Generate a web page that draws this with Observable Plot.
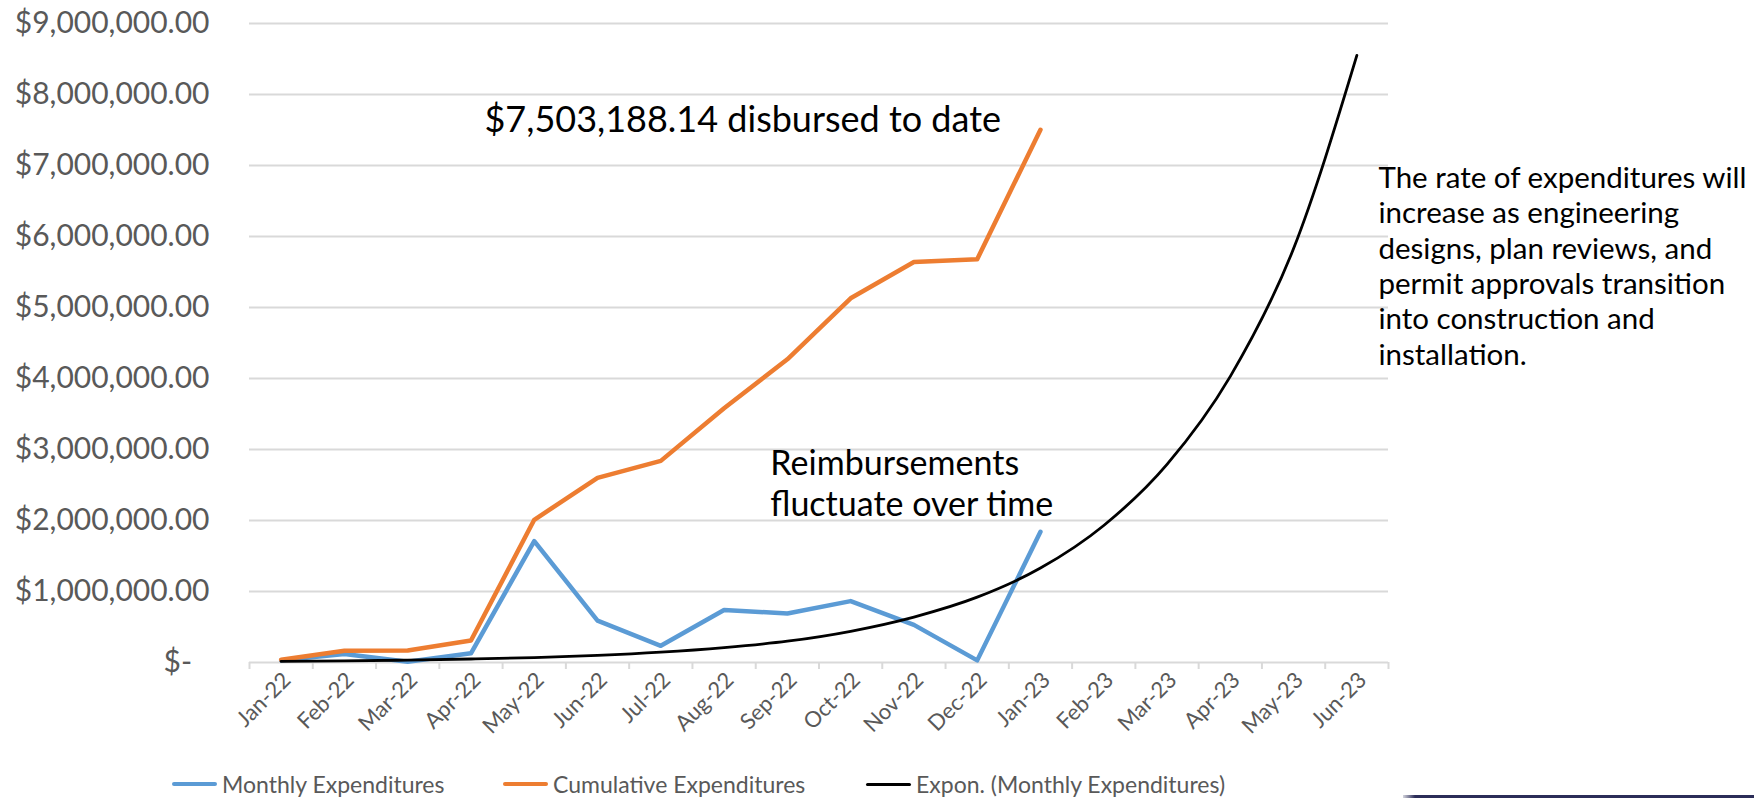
<!DOCTYPE html>
<html>
<head>
<meta charset="utf-8">
<script src="https://cdn.jsdelivr.net/npm/d3@7"></script>
<script src="https://cdn.jsdelivr.net/npm/@observablehq/plot@0.6"></script>
<style>
  html, body { margin: 0; padding: 0; background: #fff; }
  #wrap { position: relative; width: 1754px; height: 798px; overflow: hidden; font-family: Lato, sans-serif; }
  .leg { position: absolute; top: 770px; height: 28px; display: flex; align-items: center; font-size: 23px; color: #595959; white-space: nowrap; }
  .sw { width: 45px; height: 4px; margin-right: 5px; border-radius: 2px; }
  #bar { position: absolute; left: 1403px; top: 795px; width: 351px; height: 3px; background: linear-gradient(to right, rgba(43,45,88,0.2), #2b2d58 12px); }
</style>
</head>
<body>
<div id="wrap">
  <div id="chart"></div>
  <div class="leg" style="left:172px"><div class="sw" style="background:#5b9bd5"></div>Monthly Expenditures</div>
  <div class="leg" style="left:503px"><div class="sw" style="background:#ed7d31"></div>Cumulative Expenditures</div>
  <div class="leg" style="left:866px"><div class="sw" style="background:#000;height:3px"></div>Expon. (Monthly Expenditures)</div>
  <div id="bar"></div>
</div>
<script>
// ---- data ----
const months = ["Jan-22","Feb-22","Mar-22","Apr-22","May-22","Jun-22","Jul-22","Aug-22","Sep-22","Oct-22","Nov-22","Dec-22","Jan-23","Feb-23","Mar-23","Apr-23","May-23","Jun-23"];
const monthly = [30000, 120000, 10000, 130000, 1710000, 590000, 235000, 740000, 690000, 865000, 530000, 30000, 1840000];
const cumulative = [40000, 165000, 170000, 310000, 2010000, 2600000, 2840000, 3580000, 4270000, 5130000, 5640000, 5680000, 7503188.14];
const trend = [16000, 23000, 34000, 49000, 70000, 100000, 145000, 210000, 300000, 440000, 640000, 920000, 1330000, 1930000, 2790000, 4030000, 5830000, 8550000];
const yTicks = [0, 1e6, 2e6, 3e6, 4e6, 5e6, 6e6, 7e6, 8e6, 9e6];
const seriesNames = ["Monthly Expenditures", "Cumulative Expenditures", "Expon. (Monthly Expenditures)"];
const noteTotal = "$7,503,188.14 disbursed to date";
const noteFluct = "Reimbursements\nfluctuate over time";
const noteRate = "The rate of expenditures will\nincrease as engineering\ndesigns, plan reviews, and\npermit approvals transition\ninto construction and\ninstallation.";

// ---- tables ----
const idx = months.map((_, i) => i);
const bounds = d3.range(months.length + 1).map(i => i - 0.5);
const blueData = monthly.map((v, i) => ({i, v}));
const orangeData = cumulative.map((v, i) => ({i, v}));
const trendData = trend.map((v, i) => ({i, v}));
const money = d3.format("$,.2f");

const plot = Plot.plot({
  width: 1754,
  height: 765,
  marginTop: 23,
  marginBottom: 103,
  marginLeft: 249,
  marginRight: 366,
  style: {fontFamily: "Lato, sans-serif", color: "#595959", background: "transparent", overflow: "visible"},
  x: {type: "linear", domain: [-0.5, months.length - 0.5]},
  y: {domain: [0, 9e6]},
  marks: [
    Plot.gridY(yTicks.slice(1), {stroke: "#d9d9d9", strokeOpacity: 1, strokeWidth: 2}),
    Plot.ruleY([0], {stroke: "#d9d9d9", strokeWidth: 2}),
    Plot.axisY(yTicks, {tickSize: 0, tickPadding: 40, fontSize: 30, tickFormat: d => d === 0 ? "$-\u2007" : money(d), label: null}),
    Plot.axisX(bounds, {tickSize: 7, tickFormat: () => "", stroke: "#d9d9d9", strokeWidth: 2, label: null}),
    Plot.axisX(idx, {tickSize: 0, tickPadding: 14, dx: 6, tickRotate: -45, fontSize: 22, tickFormat: i => months[i], label: null}),
    Plot.line(blueData, {x: "i", y: "v", stroke: "#5b9bd5", strokeWidth: 4.5, strokeLinejoin: "round"}),
    Plot.line(orangeData, {x: "i", y: "v", stroke: "#ed7d31", strokeWidth: 4.5, strokeLinejoin: "round"}),
    Plot.line(trendData, {x: "i", y: "v", stroke: "#000", strokeWidth: 2.8, curve: "monotone-x"}),
    Plot.text([noteTotal], {x: 3, y: 7.465e6, dx: 13.5, text: d => d, textAnchor: "start", lineAnchor: "bottom", fontSize: 36, fill: "#000"}),
    Plot.text([noteFluct], {x: 8, y: 2.07e6, dx: -17, text: d => d, textAnchor: "start", lineAnchor: "bottom", fontSize: 34, lineHeight: 1.18, fill: "#000"}),
    Plot.text([noteRate], {x: 17, y: 7.04e6, dx: 21.6, text: d => d, textAnchor: "start", lineAnchor: "top", fontSize: 29.5, lineHeight: 1.2, fill: "#000"})
  ]
});
document.getElementById("chart").appendChild(plot);
</script>
</body>
</html>
